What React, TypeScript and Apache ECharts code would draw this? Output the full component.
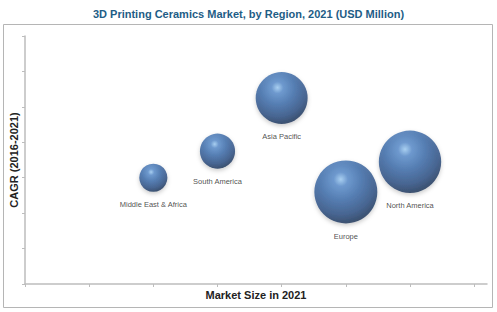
import React, { useEffect, useRef } from "react";
import * as echarts from "echarts";

const regions = ["Middle East & Africa", "South America", "Asia Pacific", "Europe", "North America"];
const marketSize = [2.0, 3.0, 4.0, 5.0, 6.0];
const cagr = [3.0, 3.75, 5.25, 2.6, 3.45];
const bubbleValue = [20, 31, 68, 100, 98];
const xTicks = [0, 1, 2, 3, 4, 5, 6, 7];

export default function App() {
  const ref = useRef<HTMLDivElement>(null);
  useEffect(() => {
    if (!ref.current) return;
    const chart = echarts.init(ref.current, undefined, { renderer: "svg" });
    const data = regions.map((r, i) => ({ name: r, value: [marketSize[i], cagr[i], bubbleValue[i]] }));
    const sphere = new echarts.graphic.RadialGradient(0.42, 0.3, 0.74, [
      { offset: 0, color: "#9ccaf3" },
      { offset: 0.15, color: "#5489c9" },
      { offset: 0.45, color: "#3566a6" },
      { offset: 0.75, color: "#264a80" },
      { offset: 1, color: "#142a4c" },
    ]);
    chart.setOption({
      animation: false,
      title: {
        text: "3D Printing Ceramics Market, by Region, 2021 (USD Million)",
        left: "center",
        top: 3,
        textStyle: { fontFamily: "Liberation Sans", fontSize: 11, fontWeight: "bold", color: "#1e5d86" },
      },
      graphic: [
        {
          type: "rect",
          shape: { x: 3.5, y: 24.5, width: 489, height: 283 },
          style: { fill: "none", stroke: "#b5b5b5", lineWidth: 1 },
          silent: true,
        },
      ],
      grid: { left: 25, right: 10, top: 36, bottom: 28 },
      xAxis: {
        type: "value",
        min: 0,
        max: 7.2,
        name: "Market Size in 2021",
        nameLocation: "middle",
        nameGap: 5,
        nameTextStyle: { fontFamily: "Liberation Sans", fontSize: 11, fontWeight: "bold", color: "#222" },
        axisLine: { show: true, lineStyle: { color: "#bdbdbd", width: 1.5 } },
        axisTick: { show: true, length: 3, customValues: xTicks, lineStyle: { color: "#bdbdbd" } },
        axisLabel: { show: false },
        splitLine: { show: false },
      },
      yAxis: {
        type: "value",
        min: 0,
        max: 7,
        interval: 1,
        name: "CAGR (2016-2021)",
        nameLocation: "middle",
        nameGap: 6,
        nameTextStyle: { fontFamily: "Liberation Sans", fontSize: 11, fontWeight: "bold", color: "#222" },
        axisLine: { show: true, lineStyle: { color: "#bdbdbd", width: 1.5 } },
        axisTick: { show: true, length: 3, lineStyle: { color: "#bdbdbd" } },
        axisLabel: { show: false },
        splitLine: { show: false },
      },
      series: [
        {
          type: "scatter",
          data,
          symbolSize: (v: number[]) => 63 * Math.sqrt(v[2] / 100),
          itemStyle: {
            color: sphere,
            shadowColor: "rgba(0,0,0,0.25)",
            shadowBlur: 4,
            shadowOffsetY: 2,
          },
          label: {
            show: true,
            position: "bottom",
            distance: 9,
            formatter: (p: any) => p.name,
            fontFamily: "Liberation Sans",
            fontSize: 7.5,
            color: "#222",
          },
        },
      ],
    });
    return () => chart.dispose();
  }, []);
  return (
    <div
      ref={ref}
      style={{ position: "fixed", left: 0, top: 0, width: 497, height: 312, background: "#fff" }}
    />
  );
}
